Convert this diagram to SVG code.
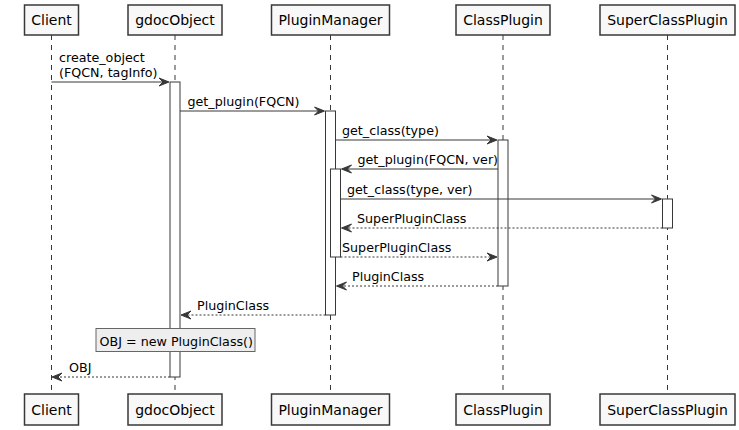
<svg xmlns="http://www.w3.org/2000/svg" width="739" height="430" viewBox="0 0 739 430">
<style>
text{font-family:"DejaVu Sans","Liberation Sans",sans-serif;fill:#000}
.pbox{fill:#F8F8F8;stroke:#383838;stroke-width:1.5}
.pt{font-size:14px;text-anchor:middle}
.life{stroke:#383838;stroke-width:1;stroke-dasharray:5,5;fill:none}
.act{fill:#FFFFFF;stroke:#383838;stroke-width:1}
.msg{stroke:#383838;stroke-width:1;fill:none}
.ret{stroke:#383838;stroke-width:1;fill:none;stroke-dasharray:2,2}
.head{fill:#383838;stroke:#383838;stroke-width:1}
.mt{font-size:12.7px}
.note{fill:#EEEEEE;stroke:#666666;stroke-width:1}
</style>
<defs>
<polygon id="ar" class="head" points="-10,-4 0,0 -10,4 -6,0"/>
<polygon id="al" class="head" points="10,-4 0,0 10,4 6,0"/>
</defs>
<g id="lifelines">
<line class="life" x1="51.5" y1="35" x2="51.5" y2="394"/>
<line class="life" x1="175" y1="35" x2="175" y2="394"/>
<line class="life" x1="330.5" y1="35" x2="330.5" y2="394"/>
<line class="life" x1="503" y1="35" x2="503" y2="394"/>
<line class="life" x1="667.5" y1="35" x2="667.5" y2="394"/>
</g>
<g id="Client">
<rect class="pbox" x="24.5" y="5" width="54" height="30"/>
<text class="pt" x="51.5" y="25">Client</text>
<rect class="pbox" x="24.5" y="394" width="54" height="31"/>
<text class="pt" x="51.5" y="415">Client</text>
</g>
<g id="gdocObject">
<rect class="pbox" x="128" y="5" width="94" height="30"/>
<text class="pt" x="175" y="25">gdocObject</text>
<rect class="pbox" x="128" y="394" width="94" height="31"/>
<text class="pt" x="175" y="415">gdocObject</text>
<rect class="act" x="170" y="82" width="10" height="295"/>
</g>
<g id="PluginManager">
<rect class="pbox" x="271.5" y="5" width="118" height="30"/>
<text class="pt" x="330.5" y="25">PluginManager</text>
<rect class="pbox" x="271.5" y="394" width="118" height="31"/>
<text class="pt" x="330.5" y="415">PluginManager</text>
<rect class="act" x="325.5" y="111" width="10" height="204"/>
<rect class="act" x="330.5" y="169" width="10" height="88"/>
</g>
<g id="ClassPlugin">
<rect class="pbox" x="456" y="5" width="94" height="30"/>
<text class="pt" x="503" y="25">ClassPlugin</text>
<rect class="pbox" x="456" y="394" width="94" height="31"/>
<text class="pt" x="503" y="415">ClassPlugin</text>
<rect class="act" x="498" y="140" width="10" height="146"/>
</g>
<g id="SuperClassPlugin">
<rect class="pbox" x="600" y="5" width="135" height="30"/>
<text class="pt" x="667.5" y="25">SuperClassPlugin</text>
<rect class="pbox" x="600" y="394" width="135" height="31"/>
<text class="pt" x="667.5" y="415">SuperClassPlugin</text>
<rect class="act" x="662.5" y="199" width="10" height="29"/>
</g>
<g id="connectors">
<line class="msg" x1="51.5" y1="82" x2="168" y2="82"/>
<use href="#ar" x="169" y="82"/>
<text class="mt" x="59" y="62">create_object</text>
<text class="mt" x="59" y="77">(FQCN, tagInfo)</text>

<line class="msg" x1="180" y1="111" x2="323" y2="111"/>
<use href="#ar" x="324.5" y="111"/>
<text class="mt" x="187.5" y="106">get_plugin(FQCN)</text>

<line class="msg" x1="335.5" y1="140" x2="496" y2="140"/>
<use href="#ar" x="497" y="140"/>
<text class="mt" x="342" y="135">get_class(type)</text>

<line class="msg" x1="498" y1="169" x2="343" y2="169"/>
<use href="#al" x="341.5" y="169"/>
<text class="mt" x="357.5" y="164">get_plugin(FQCN, ver)</text>

<line class="msg" x1="340.5" y1="199" x2="660" y2="199"/>
<use href="#ar" x="661.5" y="199"/>
<text class="mt" x="347" y="194">get_class(type, ver)</text>

<line class="ret" x1="662.5" y1="228" x2="343" y2="228"/>
<use href="#al" x="341.5" y="228"/>
<text class="mt" x="357" y="223">SuperPluginClass</text>

<line class="ret" x1="340.5" y1="257" x2="496" y2="257"/>
<use href="#ar" x="497" y="257"/>
<text class="mt" x="342" y="252">SuperPluginClass</text>

<line class="ret" x1="498" y1="286" x2="338" y2="286"/>
<use href="#al" x="336.5" y="286"/>
<text class="mt" x="352" y="281">PluginClass</text>

<line class="ret" x1="325.5" y1="315" x2="182" y2="315"/>
<use href="#al" x="181" y="315"/>
<text class="mt" x="197" y="310">PluginClass</text>

<line class="ret" x1="170" y1="377" x2="53" y2="377"/>
<use href="#al" x="52" y="377"/>
<text class="mt" x="69" y="372">OBJ</text>
</g>
<g id="note">
<rect class="note" x="96" y="328.5" width="159" height="23"/>
<text class="mt" x="99.5" y="345.5">OBJ = new PluginClass()</text>
</g>
</svg>
